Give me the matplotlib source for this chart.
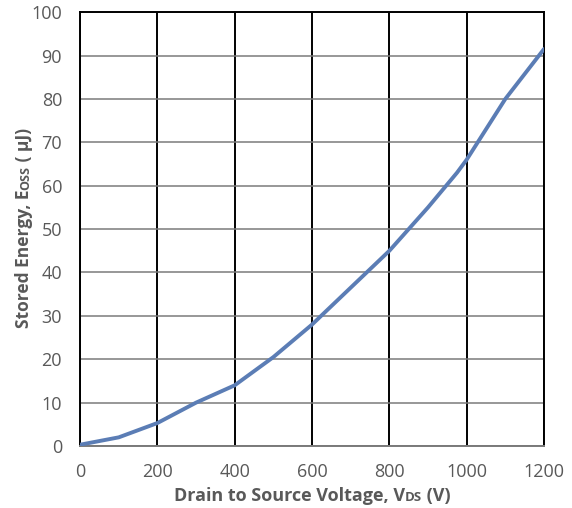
import matplotlib
matplotlib.use("Agg")
import matplotlib.pyplot as plt

# Output capacitance stored energy vs drain-source voltage
vds = [0, 100, 200, 300, 400, 500, 600, 700, 800, 900, 975, 1000, 1100, 1200]
eoss = [0.3, 2.0, 5.3, 10.0, 14.0, 20.5, 28.0, 36.5, 45.0, 55.0, 63.0, 66.0, 80.0, 91.5]

x_ticks = [0, 200, 400, 600, 800, 1000, 1200]
y_ticks = [0, 10, 20, 30, 40, 50, 60, 70, 80, 90, 100]

x_label_parts = [("Drain to Source Voltage, V", 13), ("DS", 9.5), (" (V)", 13)]
y_label_parts = [("Stored Energy, E", 12.5), ("OSS", 9), (" ( µJ)", 12.5)]

plt.rcParams['font.family'] = ['Open Sans', 'DejaVu Sans']
label_color = '#595959'

fig = plt.figure(figsize=(5.72, 5.08), dpi=100)
ax = fig.add_axes([0.14, 0.122, 0.811, 0.854])

ax.plot(vds, eoss, color='#5b7db5', linewidth=2.8, solid_capstyle='round', zorder=3)

ax.set_xlim(0, 1200)
ax.set_ylim(0, 100)
ax.set_xticks(x_ticks)
ax.set_yticks(y_ticks)

# black vertical grid, grey horizontal grid
for x in x_ticks:
    ax.axvline(x, color='black', linewidth=1.4, zorder=1)
for y in y_ticks:
    ax.axhline(y, color='#7a7a7a', linewidth=1.1, zorder=1)

for s in ax.spines.values():
    s.set_color('black')
    s.set_linewidth(1.4)
ax.spines['bottom'].set_color('#7a7a7a')

ax.tick_params(length=0, labelsize=13, labelcolor=label_color)
ax.tick_params(axis='x', pad=12)
ax.tick_params(axis='y', pad=13)


def draw_label(parts, center, base, vertical=False):
    """Place text pieces one after another on a shared baseline (display px)."""
    renderer = fig.canvas.get_renderer()
    texts = []
    for s, size in parts:
        t = fig.text(0, 0, s, fontsize=size, fontweight='bold', color=label_color,
                     transform=None, ha='left', va='baseline',
                     rotation=90 if vertical else 0, rotation_mode='anchor')
        texts.append(t)
    lengths = []
    for t in texts:
        bb = t.get_window_extent(renderer)
        lengths.append(bb.height if vertical else bb.width)
    pos = center - sum(lengths) / 2
    for t, n in zip(texts, lengths):
        t.set_position((base, pos) if vertical else (pos, base))
        pos += n


fig.canvas.draw()
draw_label(x_label_parts, 312, 7)
draw_label(y_label_parts, 280, 29, vertical=True)

fig.savefig("out.png", dpi=100)
